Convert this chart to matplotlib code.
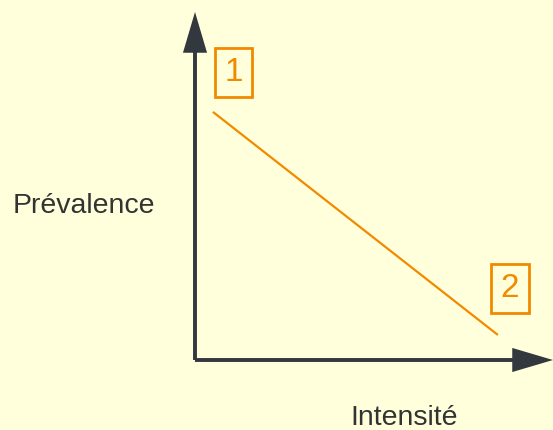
import matplotlib.pyplot as plt
from matplotlib.patches import FancyArrowPatch

#------------------------------------------------------------------------------
#   Data (schematic, axes run 0..1)
#------------------------------------------------------------------------------
intensite = [0.05, 0.846]
prevalence = [0.713, 0.072]

labels = ['1', '2']
label_x = [0.1075, 0.88]
label_y = [0.826, 0.205]

bg = '#FFFFDC'
orange = '#F28A00'
dark = '#32383D'

plt.rcParams['font.family'] = ['Liberation Sans', 'DejaVu Sans']

W, H = 553, 430
fig = plt.figure(figsize=(W / 100, H / 100), dpi=100, facecolor=bg)
ax = fig.add_axes([195 / W, 70 / H, 358 / W, 348 / H])
ax.set_xlim(0, 1)
ax.set_ylim(0, 1)
ax.axis('off')

# the trend line
ax.plot(intensite, prevalence, color=orange, lw=1.6, solid_capstyle='butt')

# boxed labels
for lab, x, y in zip(labels, label_x, label_y):
    ax.text(x, y, lab, ha='center', va='center', fontsize=24, color=orange,
            bbox=dict(boxstyle='square,pad=0.28', fc='none', ec=orange, lw=2))

#   axis arrows
for end in [(1, 0), (0, 1)]:
    arr = FancyArrowPatch((0, 0), end, transform=ax.transAxes,
                          arrowstyle='-|>,head_length=23,head_width=6.8',
                          mutation_scale=1, lw=2.8, color=dark,
                          shrinkA=0, shrinkB=0, clip_on=False,
                          joinstyle='miter', capstyle='butt')
    ax.add_patch(arr)

fig.text(83.5 / W, (H - 213) / H, 'Prévalence', ha='center', va='baseline',
         fontsize=20.5, color='#333333')
fig.text(404.5 / W, (H - 425) / H, 'Intensité', ha='center', va='baseline',
         fontsize=20.5, color='#333333')

fig.savefig('out.png', dpi=100, facecolor=bg)
